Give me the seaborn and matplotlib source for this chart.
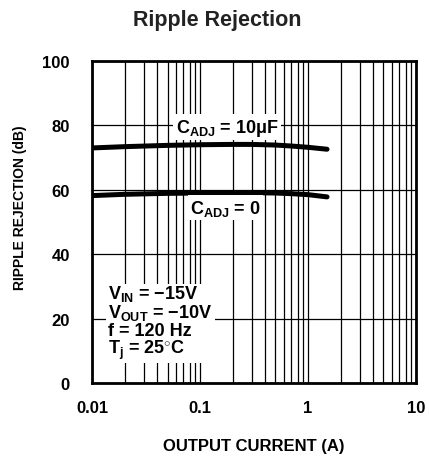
import numpy as np
import pandas as pd
import matplotlib
matplotlib.use("Agg")
import matplotlib.pyplot as plt
import seaborn as sns
from matplotlib.ticker import LogLocator, FixedLocator

# Ripple rejection vs output current
current_a = [0.01, 0.02, 0.05, 0.1, 0.2, 0.3, 0.5, 0.7, 1.0, 1.5]
rr_cadj_10uf = [73.0, 73.4, 73.8, 74.0, 74.1, 74.1, 73.9, 73.6, 73.2, 72.6]
rr_cadj_0 = [58.2, 58.6, 58.9, 59.0, 59.1, 59.1, 59.0, 58.8, 58.5, 57.8]

y_ticks = [0, 20, 40, 60, 80, 100]
x_ticks = [0.01, 0.1, 1, 10]
x_tick_labels = ["0.01", "0.1", "1", "10"]

sns.set_style("white")
plt.rcParams['font.family'] = ['Liberation Sans', 'DejaVu Sans']
plt.rcParams['mathtext.fontset'] = 'custom'
plt.rcParams['mathtext.rm'] = 'Liberation Sans:bold'
plt.rcParams['mathtext.it'] = 'Liberation Sans:bold'
plt.rcParams['mathtext.default'] = 'rm'
plt.rcParams['text.color'] = 'black'

df = pd.concat([
    pd.DataFrame({'I': current_a, 'RR': rr_cadj_10uf, 'C': '10uF'}),
    pd.DataFrame({'I': current_a, 'RR': rr_cadj_0, 'C': '0'}),
])

fig = plt.figure(figsize=(4.29, 4.6), dpi=100)
ax = fig.add_axes([0.2145, 0.1652, 0.7552, 0.7000])

sns.lineplot(data=df, x='I', y='RR', units='C', estimator=None,
             color='black', linewidth=3.6, ax=ax, zorder=3)

ax.set_xscale('log')
ax.set_xlim(0.01, 10)
ax.set_ylim(0, 100)
ax.xaxis.set_major_locator(FixedLocator(x_ticks))
ax.set_xticklabels(x_tick_labels)
ax.xaxis.set_minor_locator(LogLocator(base=10, subs=np.arange(2, 10)))
ax.set_yticks(y_ticks)
ax.grid(which='both', axis='x', color='black', linewidth=0.9)
ax.grid(which='major', axis='y', color='black', linewidth=0.9)
ax.tick_params(which='both', length=0, labelcolor='black')
ax.tick_params(axis='x', pad=12)
ax.tick_params(axis='y', pad=16)
for lab in ax.get_xticklabels() + ax.get_yticklabels():
    lab.set_fontweight('bold')
    lab.set_fontsize(12)
for sp in ax.spines.values():
    sp.set_linewidth(2)
    sp.set_color('black')

ax.set_xlabel('OUTPUT CURRENT (A)', fontsize=12, fontweight='bold', color='black')
ax.set_ylabel('RIPPLE REJECTION (dB)', fontsize=10, fontweight='bold', color='black')
ax.xaxis.set_label_coords(0.5, -0.172)
ax.yaxis.set_label_coords(-0.2, 0.547)
fig.text(0.506, 0.956, 'Ripple Rejection',
         fontsize=15.5, fontweight='bold', color='#222222', ha='center', va='center')

box = dict(facecolor='white', edgecolor='none', pad=1.5)
ax.text(0.178, 79.5, r'$C_{ADJ}$ = 10$\mu$F', fontsize=13, fontweight='bold',
        ha='center', va='center', bbox=box, zorder=4)
ax.text(0.172, 54.5, r'$C_{ADJ}$ = 0', fontsize=13, fontweight='bold',
        ha='center', va='center', bbox=box, zorder=4)
ax.text(0.0142, 6.8, r'$V_{IN}$ = $-$15V' '\n' r'$V_{OUT}$ = $-$10V' '\n'
        'f = 120 Hz\n' r'$T_j$ = 25$^{\circ}$C',
        fontsize=13, fontweight='bold', ha='left', va='bottom',
        linespacing=0.95, bbox=box, zorder=4)

fig.savefig('out.png', dpi=100)
